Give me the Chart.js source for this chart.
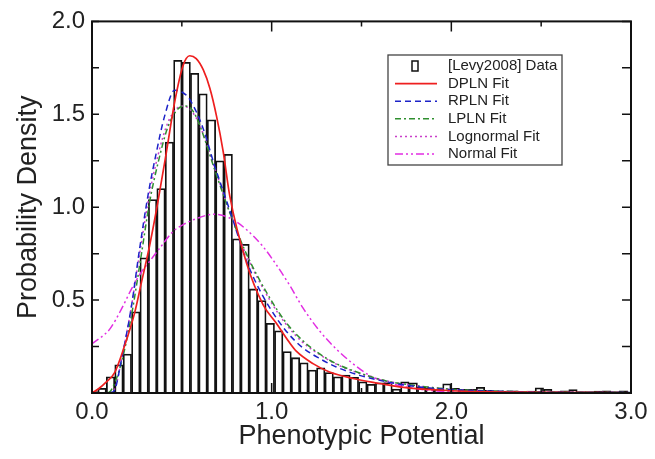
<!DOCTYPE html>
<html>
<head>
<meta charset="utf-8">
<script src="https://cdn.jsdelivr.net/npm/chart.js@4.4.1/dist/chart.umd.min.js"></script>
<style>
  html, body { margin: 0; padding: 0; background: #fff; }
</style>
</head>
<body>
<canvas id="chart" width="655" height="459"></canvas>
<script>
// Histogram bins (bin centres start + width), heights
const binCenterStart = 0.0096;
const binWidth = 0.0468;
const binHeights = [
  0.008, 0.025, 0.087, 0.152, 0.21, 0.437, 0.727, 1.041, 1.10, 1.35,
  1.79, 1.78, 1.72, 1.61, 1.47, 1.25, 1.285, 0.83, 0.80, 0.56,
  0.497, 0.375, 0.334, 0.223, 0.19, 0.163, 0.124, 0.136, 0.11, 0.087,
  0.096, 0.085, 0.06, 0.047, 0.055, 0.056, 0.021, 0.06, 0.055, 0.03,
  0.025, 0.02, 0.05, 0.025, 0.02, 0.02, 0.03, 0.015, 0.012, 0.01,
  0.012, 0.008, 0.01, 0.028, 0.02, 0.008, 0.012, 0.018, 0.008, 0.008,
  0.01, 0.012, 0.008, 0.012
];

// Fit curves
const dplnX = [0.0, 0.033, 0.08, 0.126, 0.18, 0.237, 0.274, 0.32, 0.367, 0.413, 0.459, 0.506, 0.544, 0.58, 0.619, 0.656, 0.693, 0.73, 0.767, 0.86, 0.952, 1.026, 1.1, 1.137, 1.23, 1.322, 1.452, 1.6, 1.71, 2.0, 2.5, 3.0];
const dplnY = [0.0, 0.02, 0.06, 0.11, 0.25, 0.43, 0.59, 0.79, 1.03, 1.29, 1.56, 1.76, 1.815, 1.80, 1.74, 1.64, 1.49, 1.30, 1.06, 0.70, 0.476, 0.375, 0.27, 0.225, 0.158, 0.113, 0.078, 0.051, 0.033, 0.012, 0.004, 0.001];

const rplnX = [0.10, 0.126, 0.163, 0.218, 0.265, 0.311, 0.357, 0.404, 0.46, 0.50, 0.544, 0.62, 0.68, 0.74, 0.785, 0.86, 0.93, 0.99, 1.08, 1.17, 1.27, 1.36, 1.49, 1.64, 1.8, 2.0, 2.3, 2.6, 3.0];
const rplnY = [0.0, 0.016, 0.175, 0.458, 0.776, 1.06, 1.289, 1.49, 1.63, 1.62, 1.58, 1.42, 1.23, 1.06, 0.93, 0.71, 0.56, 0.458, 0.334, 0.246, 0.184, 0.14, 0.095, 0.06, 0.035, 0.018, 0.008, 0.004, 0.002];

const lplnX = [0.09, 0.107, 0.16, 0.22, 0.274, 0.32, 0.367, 0.422, 0.478, 0.52, 0.56, 0.6, 0.68, 0.767, 0.859, 0.99, 1.081, 1.174, 1.267, 1.359, 1.489, 1.637, 1.8, 2.0, 2.3, 2.6, 3.0];
const lplnY = [0.0, 0.016, 0.15, 0.42, 0.741, 1.024, 1.236, 1.431, 1.528, 1.545, 1.52, 1.44, 1.21, 0.97, 0.75, 0.511, 0.378, 0.281, 0.21, 0.158, 0.108, 0.065, 0.04, 0.02, 0.009, 0.004, 0.002];

const lognX = [0.10, 0.13, 0.16, 0.22, 0.27, 0.32, 0.37, 0.42, 0.47, 0.51, 0.56, 0.6, 0.68, 0.767, 0.86, 0.99, 1.08, 1.17, 1.27, 1.36, 1.49, 1.64, 1.8, 2.0, 2.3, 2.6, 3.0];
const lognY = [0.0, 0.03, 0.16, 0.47, 0.78, 1.07, 1.29, 1.45, 1.53, 1.545, 1.51, 1.44, 1.22, 0.97, 0.74, 0.50, 0.37, 0.275, 0.205, 0.155, 0.105, 0.065, 0.04, 0.02, 0.009, 0.004, 0.002];

const normX = [0.0, 0.05, 0.1, 0.163, 0.22, 0.274, 0.322, 0.385, 0.452, 0.515, 0.6, 0.674, 0.76, 0.859, 0.95, 1.026, 1.1, 1.174, 1.267, 1.359, 1.452, 1.544, 1.637, 1.75, 1.9, 2.05, 2.3, 3.0];
const normY = [0.265, 0.30, 0.345, 0.45, 0.56, 0.65, 0.71, 0.79, 0.87, 0.91, 0.945, 0.962, 0.945, 0.88, 0.79, 0.69, 0.58, 0.458, 0.334, 0.237, 0.158, 0.095, 0.06, 0.032, 0.012, 0.004, 0.001, 0.0];

// Ticks
const xTickValues = [0, 1, 2, 3];
const xTickLabels = ['0.0', '1.0', '2.0', '3.0'];
const xMinorTicks = [0.5, 1.5, 2.5];
const yTickValues = [0.5, 1, 1.5, 2];
const yTickLabels = ['0.5', '1.0', '1.5', '2.0'];
const yMinorTicks = [0.25, 0.75, 1.25, 1.75];

const zip = (xs, ys) => xs.map((x, i) => ({ x: x, y: ys[i] }));
const fontFamily = "'Liberation Sans', Arial, Helvetica, sans-serif";

const lineDefaults = {
    type: 'line',
    pointRadius: 0,
    borderWidth: 1.5,
    fill: false,
    cubicInterpolationMode: 'monotone'
};

// box, inward ticks and the legend
const framePlugin = {
    id: 'frame',
    afterDatasetsDraw(chart) {
        const { ctx, chartArea: a, scales: { x, y } } = chart;
        ctx.save();
        ctx.strokeStyle = '#111';
        ctx.lineWidth = 2;
        ctx.strokeRect(a.left, a.top, a.right - a.left, a.bottom - a.top);

        ctx.lineWidth = 1.5;
        ctx.beginPath();
        xTickValues.concat(xMinorTicks).forEach(v => {
            const px = x.getPixelForValue(v);
            const len = xTickValues.includes(v) ? 10 : 5;
            ctx.moveTo(px, a.bottom); ctx.lineTo(px, a.bottom - len);
            ctx.moveTo(px, a.top); ctx.lineTo(px, a.top + len);
        });
        yTickValues.concat(yMinorTicks).forEach(v => {
            const py = y.getPixelForValue(v);
            ctx.moveTo(a.left, py); ctx.lineTo(a.left + 7, py);
            ctx.moveTo(a.right, py); ctx.lineTo(a.right - 9, py);
        });
        ctx.stroke();

        // legend
        const lx = 388, ly = 55, lw = 174, lh = 110;
        ctx.fillStyle = '#fff';
        ctx.fillRect(lx, ly, lw, lh);
        ctx.strokeStyle = '#444';
        ctx.lineWidth = 1.3;
        ctx.strokeRect(lx, ly, lw, lh);
        ctx.font = '15px ' + fontFamily;
        ctx.textBaseline = 'middle';
        chart.data.datasets.forEach((ds, i) => {
            const cy = ly + 11 + i * 17.6;
            if (ds.type === 'bar') {
                ctx.setLineDash([]);
                ctx.strokeStyle = '#111';
                ctx.lineWidth = 1.5;
                ctx.strokeRect(412, cy - 5, 6, 10);
            } else {
                ctx.setLineDash(ds.borderDash || []);
                ctx.strokeStyle = ds.borderColor;
                ctx.lineWidth = ds.borderWidth;
                ctx.beginPath();
                ctx.moveTo(395, cy); ctx.lineTo(437, cy);
                ctx.stroke();
            }
            ctx.setLineDash([]);
            ctx.fillStyle = '#222';
            ctx.fillText(ds.label, 448, cy);
        });
        ctx.restore();
    }
};

const ctx = document.getElementById('chart').getContext('2d');
new Chart(ctx, {
    type: 'bar',
    data: {
        datasets: [
            {
                type: 'bar',
                label: '[Levy2008] Data',
                data: binHeights.map((h, i) => ({ x: binCenterStart + i * binWidth, y: h })),
                backgroundColor: 'rgba(255,255,255,0)',
                borderColor: '#111',
                borderWidth: 1.1,
                borderSkipped: 'start',
                barPercentage: 1,
                categoryPercentage: 1,
                clip: 0,
                order: 10
            },
            { ...lineDefaults, label: 'DPLN Fit', data: zip(dplnX, dplnY), borderColor: '#ee1f1f', borderWidth: 1.7, order: 1 },
            { ...lineDefaults, label: 'RPLN Fit', data: zip(rplnX, rplnY), borderColor: '#1c22c8', borderDash: [6, 4], order: 2 },
            { ...lineDefaults, label: 'LPLN Fit', data: zip(lplnX, lplnY), borderColor: '#2f8f2f', borderDash: [6, 3, 2, 3], order: 3 },
            { ...lineDefaults, label: 'Lognormal Fit', data: zip(lognX, lognY), borderColor: '#c93fc9', borderDash: [2, 3], order: 4 },
            { ...lineDefaults, label: 'Normal Fit', data: zip(normX, normY), borderColor: '#e22ee2', borderDash: [8, 3, 2, 3, 2, 3], order: 5 }
        ]
    },
    options: {
        responsive: false,
        animation: false,
        devicePixelRatio: 1,
        layout: { padding: { left: 0, top: 17, right: 24, bottom: 0 } },
        plugins: {
            legend: { display: false },
            tooltip: { enabled: false }
        },
        scales: {
            x: {
                type: 'linear',
                min: 0,
                max: 3,
                offset: false,
                grid: { display: false, drawTicks: false },
                border: { display: false },
                afterBuildTicks: s => { s.ticks = xTickValues.map(v => ({ value: v })); },
                afterFit: s => { s.height = 66; },
                ticks: {
                    color: '#222',
                    padding: 5,
                    maxRotation: 0,
                    font: { family: fontFamily, size: 24 },
                    callback: v => xTickLabels[xTickValues.indexOf(v)]
                },
                title: {
                    display: true,
                    text: 'Phenotypic Potential',
                    color: '#222',
                    font: { family: fontFamily, size: 27 },
                    padding: { top: 0, bottom: 6 }
                }
            },
            y: {
                type: 'linear',
                min: 0,
                max: 2,
                grid: { display: false, drawTicks: false },
                border: { display: false },
                afterBuildTicks: s => { s.ticks = yTickValues.map(v => ({ value: v })); },
                afterFit: s => { s.width = 92; },
                ticks: {
                    color: '#222',
                    padding: 7,
                    font: { family: fontFamily, size: 24 },
                    callback: v => yTickLabels[yTickValues.indexOf(v)]
                },
                title: {
                    display: true,
                    text: 'Probability Density',
                    color: '#222',
                    font: { family: fontFamily, size: 27 },
                    padding: { top: 12, bottom: 0 }
                }
            }
        }
    },
    plugins: [framePlugin]
});
</script>
</body>
</html>
